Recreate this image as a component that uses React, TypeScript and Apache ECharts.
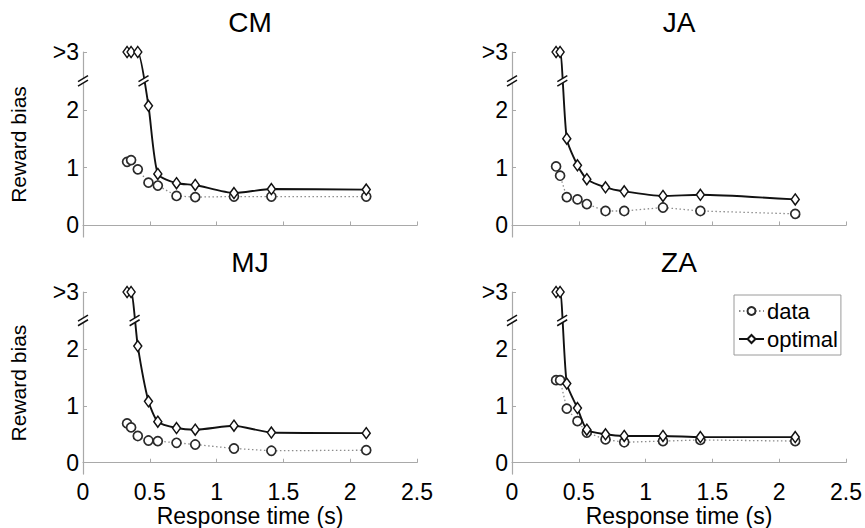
import React, { useEffect, useRef } from "react";
import * as echarts from "echarts";

// Response-time bins (s), shared by all subjects
const times = [0.33, 0.36, 0.41, 0.49, 0.56, 0.7, 0.84, 1.13, 1.41, 2.12];

const subjects = ["CM", "JA", "MJ", "ZA"];

// Reward bias, "data" series (values of 3 mean ">3")
const cmData = [1.1, 1.13, 0.97, 0.74, 0.69, 0.51, 0.49, 0.5, 0.5, 0.5];
const jaData = [1.02, 0.86, 0.49, 0.45, 0.37, 0.25, 0.25, 0.31, 0.25, 0.2];
const mjData = [0.69, 0.62, 0.47, 0.39, 0.38, 0.35, 0.32, 0.25, 0.21, 0.22];
const zaData = [1.45, 1.45, 0.95, 0.73, 0.53, 0.41, 0.36, 0.38, 0.4, 0.38];

// Reward bias, "optimal" series
const cmOptimal = [3, 3, 3, 2.07, 0.89, 0.73, 0.7, 0.56, 0.63, 0.62];
const jaOptimal = [3, 3, 1.5, 1.04, 0.8, 0.66, 0.59, 0.51, 0.53, 0.45];
const mjOptimal = [3, 3, 2.05, 1.08, 0.72, 0.61, 0.58, 0.65, 0.53, 0.52];
const zaOptimal = [3, 3, 1.39, 0.96, 0.58, 0.5, 0.47, 0.47, 0.45, 0.45];

const yTicks = [0, 1, 2, 3];
const xTicks = [0, 0.5, 1, 1.5, 2, 2.5];
const breakLevel = 2.5;
const topLevel = 3;

const dataSets = [cmData, jaData, mjData, zaData];
const optimalSets = [cmOptimal, jaOptimal, mjOptimal, zaOptimal];

const FONT = "Liberation Sans, Arial, Helvetica, sans-serif";
const AXIS_COLOR = "#a9a9a9";

function crossing(xs: number[], ys: number[], level: number): number | null {
  for (let i = 0; i < ys.length - 1; i++) {
    if (ys[i] >= level && ys[i + 1] < level) {
      const t = (ys[i] - level) / (ys[i] - ys[i + 1]);
      return xs[i] + t * (xs[i + 1] - xs[i]);
    }
  }
  return null;
}

export default function App() {
  const ref = useRef<HTMLDivElement>(null);

  useEffect(() => {
    if (!ref.current) return;
    const chart = echarts.init(ref.current, undefined, { renderer: "svg" });

    const grids = [
      { left: 83, top: 52, width: 334, height: 185 },
      { left: 512, top: 52, width: 334, height: 185 },
      { left: 83, top: 292, width: 334, height: 186 },
      { left: 512, top: 292, width: 334, height: 186 },
    ];

    const xAxes = grids.map((_, i) => ({
      type: "value",
      gridIndex: i,
      min: xTicks[0],
      max: xTicks[xTicks.length - 1],
      interval: 0.5,
      name: i >= 2 ? "Response time (s)" : "",
      nameLocation: "middle",
      nameGap: 25,
      nameTextStyle: { fontFamily: FONT, fontSize: 23, color: "#000" },
      axisLine: { show: true, lineStyle: { color: AXIS_COLOR, width: 1.2 } },
      axisTick: { show: true, inside: true, length: 4, lineStyle: { color: AXIS_COLOR } },
      axisLabel: {
        show: i >= 2,
        fontFamily: FONT,
        fontSize: 23,
        color: "#000",
        margin: 6,
      },
      splitLine: { show: false },
    }));

    const yAxes = grids.map((_, i) => ({
      type: "value",
      gridIndex: i,
      min: -0.2,
      max: topLevel,
      name: i % 2 === 0 ? "Reward bias" : "",
      nameLocation: "middle",
      nameGap: 54,
      nameTextStyle: { fontFamily: FONT, fontSize: 21, color: "#000" },
      axisLine: { show: true, lineStyle: { color: AXIS_COLOR, width: 1.2 } },
      axisTick: {
        show: true,
        inside: true,
        length: 4,
        customValues: yTicks,
        lineStyle: { color: AXIS_COLOR },
      },
      axisLabel: {
        customValues: yTicks,
        fontFamily: FONT,
        fontSize: 23,
        color: "#000",
        margin: 4,
        formatter: (v: number) => (v === topLevel ? ">3" : String(v)),
      },
      splitLine: { show: false },
    }));

    const series: any[] = [];
    subjects.forEach((_, i) => {
      series.push({
        type: "line",
        name: "data",
        xAxisIndex: i,
        yAxisIndex: i,
        data: times.map((t, k) => [t, dataSets[i][k]]),
        symbol: "circle",
        symbolSize: 9,
        lineStyle: { color: "#8c8c8c", width: 1.3, type: [1.5, 2.5] },
        itemStyle: { color: "#ffffff", borderColor: "#2a2a2a", borderWidth: 1.7 },
        z: 3,
      });
      series.push({
        type: "line",
        name: "optimal",
        xAxisIndex: i,
        yAxisIndex: i,
        data: times.map((t, k) => [t, optimalSets[i][k]]),
        symbol: "diamond",
        symbolSize: [8, 11],
        smooth: 0.2,
        lineStyle: { color: "#111", width: 1.9 },
        itemStyle: { color: "#ffffff", borderColor: "#111", borderWidth: 1.5 },
        z: 4,
      });
      const xc = crossing(times, optimalSets[i], breakLevel);
      const breaks: number[][] = [[0, breakLevel]];
      if (xc !== null) breaks.push([xc, breakLevel]);
      series.push({
        type: "custom",
        name: "breaks",
        xAxisIndex: i,
        yAxisIndex: i,
        clip: false,
        silent: true,
        z: 10,
        data: breaks,
        encode: { x: 0, y: 1 },
        renderItem: (params: any, api: any) => {
          const p = api.coord([api.value(0), api.value(1)]);
          const cx = p[0];
          const cy = p[1];
          const dx = 5;
          const dy = 3;
          const g = 2.3;
          return {
            type: "group",
            children: [
              {
                type: "polygon",
                shape: {
                  points: [
                    [cx - dx - 1, cy + dy + g],
                    [cx + dx + 1, cy - dy + g],
                    [cx + dx + 1, cy - dy - g],
                    [cx - dx - 1, cy + dy - g],
                  ],
                },
                style: { fill: "#ffffff" },
              },
              {
                type: "line",
                shape: { x1: cx - dx, y1: cy + dy + g, x2: cx + dx, y2: cy - dy + g },
                style: { stroke: "#111", lineWidth: 1.5 },
              },
              {
                type: "line",
                shape: { x1: cx - dx, y1: cy + dy - g, x2: cx + dx, y2: cy - dy - g },
                style: { stroke: "#111", lineWidth: 1.5 },
              },
            ],
          };
        },
      });
    });

    const titleCenters = [
      [250, 22],
      [679, 22],
      [250, 262],
      [679, 262],
    ];

    chart.setOption({
      animation: false,
      backgroundColor: "#ffffff",
      textStyle: { fontFamily: FONT },
      grid: grids,
      xAxis: xAxes,
      yAxis: yAxes,
      legend: {
        data: ["data", "optimal"],
        orient: "vertical",
        left: 734,
        top: 295,
        itemWidth: 25,
        itemHeight: 10,
        itemGap: 6,
        padding: [5, 3, 5, 4],
        borderColor: "#9a9a9a",
        borderWidth: 1,
        textStyle: { fontFamily: FONT, fontSize: 22, color: "#000", padding: [0, 0, 0, -2] },
      },
      graphic: subjects.map((s, i) => ({
        type: "text",
        x: titleCenters[i][0],
        y: titleCenters[i][1],
        style: {
          text: s,
          font: `28px ${FONT}`,
          fill: "#000",
          textAlign: "center",
          textVerticalAlign: "middle",
        },
      })),
      series,
    });

    return () => chart.dispose();
  }, []);

  return (
    <div
      ref={ref}
      style={{ position: "fixed", left: 0, top: 0, width: 865, height: 528 }}
    />
  );
}
